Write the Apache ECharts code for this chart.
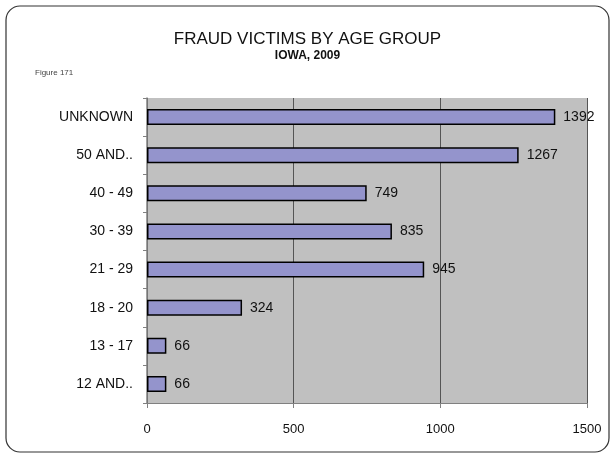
<!DOCTYPE html>
<html>
<head>
<meta charset="utf-8">
<script src="https://cdn.jsdelivr.net/npm/echarts@6/dist/echarts.min.js"></script>
<style>
  html, body { margin: 0; padding: 0; background: #fff; }
  #chart { width: 615px; height: 458px; }
</style>
</head>
<body>
<div id="chart"></div>
<script>
// age groups, top to bottom
const ageGroups = ['UNKNOWN', '50 AND..', '40 - 49', '30 - 39', '21 - 29', '18 - 20', '13 - 17', '12 AND..'];
const victims = [1392, 1267, 749, 835, 945, 324, 66, 66];
const xTicks = [0, 500, 1000, 1500];

const myChart = echarts.init(document.getElementById('chart'));

const option = {
    animation: false,
    backgroundColor: '#fff',
    textStyle: { fontFamily: 'Liberation Sans, Arial, sans-serif' },
    graphic: [
        {
            type: 'rect',
            shape: { x: 6, y: 6, width: 603, height: 446, r: 14 },
            style: { fill: 'none', stroke: '#333', lineWidth: 1.2 },
            silent: true
        },
        {
            type: 'text',
            left: 35, top: 69,
            style: { text: 'Figure 171', fontSize: 8, fill: '#444', fontFamily: 'Liberation Sans, Arial' }
        }
    ],
    title: {
        text: 'FRAUD VICTIMS BY AGE GROUP',
        subtext: 'IOWA, 2009',
        left: 'center',
        top: 26,
        itemGap: 2,
        textStyle: { fontSize: 17, fontWeight: 'normal', color: '#111', fontFamily: 'Liberation Sans, Arial' },
        subtextStyle: { fontSize: 12, fontWeight: 'bold', color: '#111', fontFamily: 'Liberation Sans, Arial' }
    },
    grid: {
        left: 147, right: 28, top: 98, bottom: 55,
        show: true, backgroundColor: '#c0c0c0', borderWidth: 0
    },
    xAxis: {
        type: 'value',
        min: xTicks[0],
        max: xTicks[xTicks.length - 1],
        interval: 500,
        axisLine: { show: true, lineStyle: { color: '#808080', width: 1 } },
        axisTick: { show: true, length: 5, lineStyle: { color: '#808080' } },
        axisLabel: { margin: 20, fontSize: 13, color: '#111', formatter: function (v) { return String(v); } },
        splitLine: { show: true, lineStyle: { color: '#555', width: 1 } }
    },
    yAxis: {
        type: 'category',
        inverse: true,
        data: ageGroups,
        axisLine: { show: true, lineStyle: { color: '#808080', width: 1.5 } },
        axisTick: { show: true, length: 4, lineStyle: { color: '#808080' } },
        axisLabel: { margin: 14, fontSize: 14, color: '#111' }
    },
    series: [{
        type: 'bar',
        data: victims,
        barWidth: '42%',
        itemStyle: { color: '#9494cc', borderColor: '#000', borderWidth: 1.5 },
        label: {
            show: true,
            position: 'right',
            distance: 8,
            fontSize: 14,
            color: '#111'
        }
    }]
};

myChart.setOption(option);
</script>
</body>
</html>
